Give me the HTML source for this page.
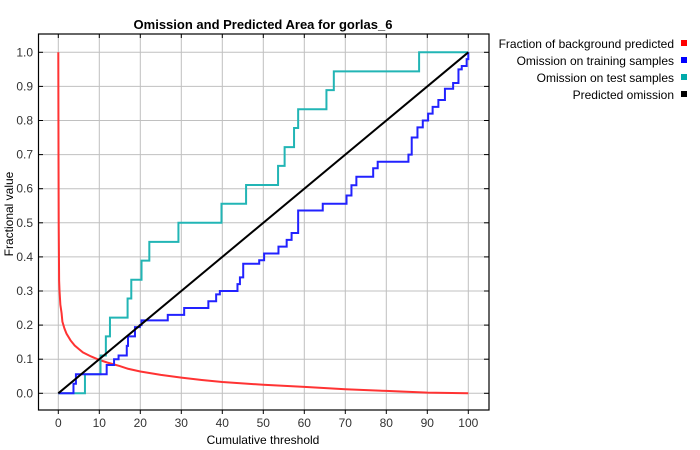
<!DOCTYPE html>
<html><head><meta charset="utf-8"><style>
body{margin:0;background:#fff;}
svg{display:block;font-family:"Liberation Sans",sans-serif;}
</style></head><body>
<svg id="chart" width="700" height="450">
<rect x="0" y="0" width="700" height="450" fill="#fff"/>
<text x="263" y="29" font-size="13" font-weight="bold" text-anchor="middle">Omission and Predicted Area for gorlas_6</text>
<g id="grid"></g>
<g id="series"></g>
<rect x="38.5" y="34" width="450.5" height="376" fill="none" stroke="#000" stroke-width="1.2"/>
<g id="axes"></g>
<text x="263" y="444" font-size="12" text-anchor="middle">Cumulative threshold</text>
<text transform="translate(13,214) rotate(-90)" font-size="12" text-anchor="middle">Fractional value</text>
<g font-size="12">
<g><text x="674" y="48" text-anchor="end">Fraction of background predicted</text><rect x="681" y="40" width="6" height="6" fill="#ff0000"/></g>
<g><text x="674" y="65" text-anchor="end">Omission on training samples</text><rect x="681" y="57" width="6" height="6" fill="#0000ff"/></g>
<g><text x="674" y="82" text-anchor="end">Omission on test samples</text><rect x="681" y="74" width="6" height="6" fill="#00aaaa"/></g>
<g><text x="674" y="99" text-anchor="end">Predicted omission</text><rect x="681" y="91" width="6" height="6" fill="#000"/></g>
</g>
</svg>
<script>
const xTicks=[0,10,20,30,40,50,60,70,80,90,100];
const yTicks=[0,0.1,0.2,0.3,0.4,0.5,0.6,0.7,0.8,0.9,1.0];
const bgX=[0,0.05,0.1,0.2,0.3,0.5,0.8,1,1.5,2,3,4,5,6,8,10,12,15,17,20,25,30,35,40,50,60,70,80,90,100];
const bgY=[1,0.7,0.5,0.33,0.3,0.26,0.235,0.21,0.19,0.175,0.155,0.14,0.13,0.12,0.108,0.098,0.09,0.08,0.072,0.064,0.054,0.046,0.039,0.033,0.025,0.019,0.012,0.007,0.002,0];
const trainX=[0,3.7,4.3,11.8,13.6,14.7,16.7,17,18.7,19.9,20.3,26.7,30.7,36.6,38.5,39.4,43.7,44.3,45.1,49,50.2,53.7,55.7,56.9,58.5,64.5,70.3,71.5,72.7,76.8,77.9,85.4,86.2,87.6,88.9,90.2,91.3,92.7,94.3,96.3,97.6,98.4,99.6,100];
const trainY=[0,0.028,0.056,0.083,0.1,0.111,0.139,0.167,0.194,0.2,0.214,0.23,0.25,0.27,0.29,0.3,0.32,0.34,0.38,0.39,0.41,0.43,0.45,0.47,0.536,0.556,0.58,0.61,0.635,0.66,0.679,0.7,0.75,0.78,0.8,0.82,0.84,0.86,0.893,0.91,0.95,0.96,0.98,1.0];
const testX=[0,6.5,10.3,11.6,12.6,16.9,17.8,20.3,22.2,29.3,39.8,45.8,53.6,55.2,57.5,58.5,65.4,67.2,88,100];
const testY=[0,0.056,0.111,0.167,0.222,0.278,0.333,0.389,0.444,0.5,0.556,0.611,0.667,0.722,0.778,0.833,0.889,0.944,1.0,1.0];
const predX=[0,100];
const predY=[0,1];
const X=v=>58.3+v*4.1;
const Y=v=>393.3-v*341;
const NS='http://www.w3.org/2000/svg';
function mk(t,a,p){const e=document.createElementNS(NS,t);for(const k in a)e.setAttribute(k,a[k]);p.appendChild(e);return e;}
const grid=document.getElementById('grid'),axes=document.getElementById('axes'),ser=document.getElementById('series');
xTicks.forEach(v=>{
 const l=mk('line',{x1:X(v),x2:X(v),y1:34,y2:410,stroke:'#c0c0c0','stroke-width':1},grid);
 
 
 mk('line',{x1:X(v),x2:X(v),y1:410,y2:414,stroke:'#000'},axes);
 mk('line',{x1:X(v),x2:X(v),y1:34,y2:38,stroke:'#000'},axes);
 const t=mk('text',{x:X(v),y:427,'font-size':12,'text-anchor':'middle',fill:'#333'},axes);
 t.textContent=v;
 
 
});
yTicks.forEach(v=>{
 const l=mk('line',{x1:38.5,x2:489,y1:Y(v),y2:Y(v),stroke:'#c0c0c0','stroke-width':1},grid);
 
 
 mk('line',{x1:38.5,x2:43,y1:Y(v),y2:Y(v),stroke:'#000'},axes);
 mk('line',{x1:484,x2:489,y1:Y(v),y2:Y(v),stroke:'#000'},axes);
 const t=mk('text',{x:33,y:Y(v)+4,'font-size':12,'text-anchor':'end',fill:'#333'},axes);
 t.textContent=v.toFixed(1);
 
 
});
function line(xs,ys,col,step){
 let d='M'+X(xs[0])+','+Y(ys[0]);
 for(let i=1;i<xs.length;i++){
  if(step)d+=' L'+X(xs[i])+','+Y(ys[i-1]);
  d+=' L'+X(xs[i])+','+Y(ys[i]);
 }
 return mk('path',{d:d,fill:'none',stroke:col,'stroke-width':2},ser);
}
const p1=line(bgX,bgY,'#ff3333',false);


const p3=line(testX,testY,'#22b5b5',true);


const p2=line(trainX,trainY,'#2222ff',true);


const p4=line(predX,predY,'#000',false);


</script>
</body></html>
